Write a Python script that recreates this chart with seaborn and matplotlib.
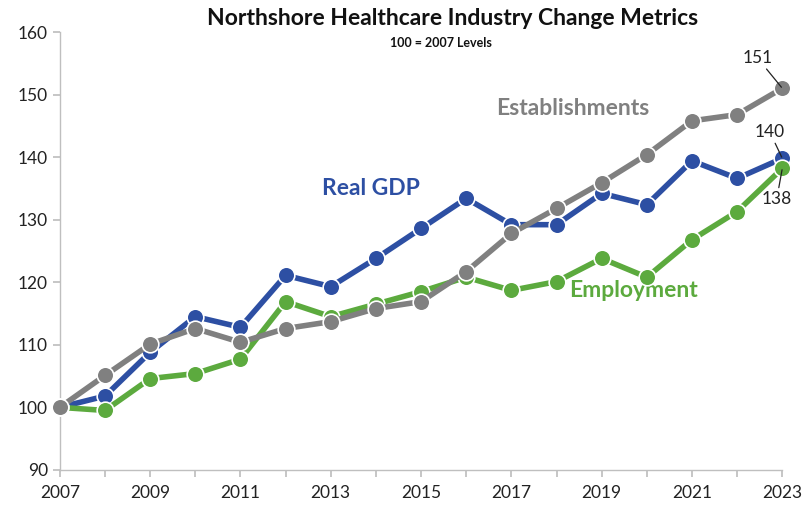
import matplotlib
matplotlib.use("Agg")
import matplotlib.pyplot as plt
import seaborn as sns
import pandas as pd

years = list(range(2007, 2024))
real_gdp = [100, 101.8, 108.8, 114.5, 112.8, 121.1, 119.3, 123.8, 128.6, 133.4,
            129.2, 129.2, 134.2, 132.4, 139.4, 136.6, 139.8]
employment = [100, 99.5, 104.6, 105.4, 107.7, 116.9, 114.5, 116.5, 118.5, 120.8,
              118.7, 120.1, 123.8, 120.8, 126.8, 131.3, 138.2]
establishments = [100, 105.1, 110.1, 112.6, 110.4, 112.6, 113.7, 115.8, 116.9, 121.7,
                  127.8, 131.8, 135.9, 140.4, 145.8, 146.8, 151.0]
series_names = ["Real GDP", "Employment", "Establishments"]
colors = {"Real GDP": "#2D4FA3", "Employment": "#5CAA3E", "Establishments": "#808080"}
end_labels = {"Establishments": "151", "Real GDP": "140", "Employment": "138"}

sns.set_theme(style="white")
plt.rcParams["font.family"] = ["Lato", "DejaVu Sans"]

df = pd.concat([
    pd.DataFrame({"Year": years, "Value": real_gdp, "Series": "Real GDP"}),
    pd.DataFrame({"Year": years, "Value": employment, "Series": "Employment"}),
    pd.DataFrame({"Year": years, "Value": establishments, "Series": "Establishments"}),
])

fig = plt.figure(figsize=(8.09, 5.08), dpi=100)
ax = fig.add_axes([0.074, 0.075, 0.893, 0.862])

for z, name in enumerate(series_names):
    sub = df[df["Series"] == name]
    sns.lineplot(data=sub, x="Year", y="Value", ax=ax, color=colors[name],
                 linewidth=4, marker="o", markersize=12,
                 markeredgecolor="white", markeredgewidth=1.2,
                 zorder=3 + z, legend=False)

ax.set_xlim(2007, 2023)
ax.set_ylim(90, 160)
ax.set_xticks(years)
ax.set_xticklabels([str(y) if (y - 2007) % 2 == 0 else "" for y in years])
ax.set_yticks(range(90, 161, 10))
ax.set_xlabel("")
ax.set_ylabel("")
for s in ["top", "right"]:
    ax.spines[s].set_visible(False)
for s in ["left", "bottom"]:
    ax.spines[s].set_color("#BFBFBF")
    ax.spines[s].set_linewidth(1)
ax.tick_params(axis="both", direction="out", length=5, color="#BFBFBF",
               labelsize=12.5, labelcolor="#222222", bottom=True, left=True)
ax.tick_params(axis="x", pad=6)

# Series labels
ax.text(2013.9, 135.0, "Real GDP", color=colors["Real GDP"], fontsize=16.5,
        fontweight="bold", ha="center", va="center")
ax.text(2018.35, 147.8, "Establishments", color=colors["Establishments"], fontsize=16.5,
        fontweight="bold", ha="center", va="center")
ax.text(2019.7, 118.7, "Employment", color=colors["Employment"], fontsize=16.5,
        fontweight="bold", ha="center", va="center")

# End value annotations
offsets = {"Establishments": (-18, 22), "Real GDP": (-9, 19), "Employment": (-4, -22)}
values_end = {"Real GDP": real_gdp[-1], "Employment": employment[-1],
              "Establishments": establishments[-1]}
for name in series_names:
    ax.annotate(end_labels[name], xy=(years[-1], values_end[name]),
                xytext=offsets[name], textcoords="offset points",
                ha="center", va="center", fontsize=12.5, color="#222222",
                arrowprops=dict(arrowstyle="-", color="#222222", lw=0.9,
                                shrinkA=0, shrinkB=1), zorder=10)

fig.text(0.56, 0.963, "Northshore Healthcare Industry Change Metrics", ha="center",
         va="center", fontsize=16.5, fontweight="bold", color="#111111")
fig.text(0.545, 0.915, "100 = 2007 Levels", ha="center", va="center",
         fontsize=9, fontweight="bold", color="#111111")

for line in ax.lines:
    line.set_clip_on(False)

fig.savefig("out.png", dpi=100)
